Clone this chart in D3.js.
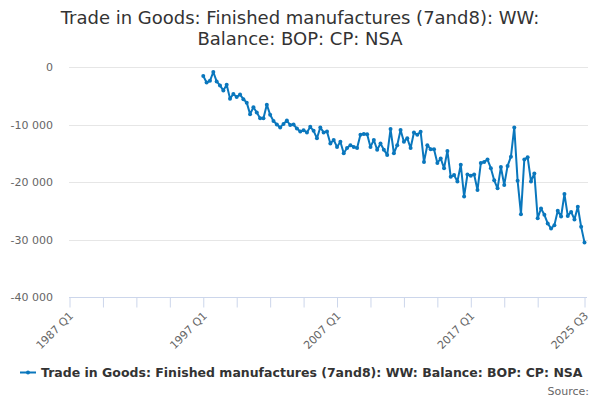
<!DOCTYPE html>
<html>
<head>
<meta charset="utf-8">
<script src="https://cdn.jsdelivr.net/npm/d3@7"></script>
<style>
  body { margin: 0; background: #fff; }
  svg { font-family: "DejaVu Sans", sans-serif; }
</style>
</head>
<body>
<script>
// quarterly values, 1997 Q1 .. 2025 Q3 (GBP million)
let firstYear = 1997;
let axisStart = 1987; // x axis starts at 1987 Q1
let valores = [
  -1570, -2700, -2400, -870,
  -2500, -3200, -4100, -3100,
  -5500, -4700, -5200, -4800,
  -5600, -6200, -8200, -7000,
  -7900, -8900, -8900, -6550,
  -8300, -9400, -10000, -10500,
  -9900, -9300, -10100, -10000,
  -10700, -11200, -11000, -11400,
  -10400, -11100, -12400, -10500,
  -11400, -11200, -13300, -12700,
  -13900, -13000, -15000, -14100,
  -13600, -13900, -14100, -11800,
  -11650, -11700, -13900, -12700,
  -14400, -13300, -14400, -15300,
  -10800, -15000, -13600, -10950,
  -13000, -12400, -14100, -11400,
  -11800, -11250, -16500, -13600,
  -14300, -14300, -16700, -15900,
  -17600, -14600, -19100, -18800,
  -19900, -17000, -22500, -18700,
  -18900, -18700, -21400, -16700,
  -16500, -16100, -17600, -19700,
  -21100, -17400, -20500, -17200,
  -15600, -10500, -19800, -25600,
  -16100, -15700, -19900, -18500,
  -26300, -24600, -25700, -27200,
  -28100, -27500, -25000, -26000,
  -22100, -25900, -25200, -26500,
  -24300, -27800, -30500
];
let yTicks = [0, -10000, -20000, -30000, -40000];
let xTickLabels = ["1987 Q1", "1997 Q1", "2007 Q1", "2017 Q1", "2025 Q3"];
let titulo = ["Trade in Goods: Finished manufactures (7and8): WW:", "Balance: BOP: CP: NSA"];
let serie = "Trade in Goods: Finished manufactures (7and8): WW: Balance: BOP: CP: NSA";

function graficar() {
  let w = 600;
  let h = 400;
  let svg = d3.select("body").append("svg").attr("width", w).attr("height", h);

  // quarter index counted from 1987 Q1
  let inicio = (firstYear - axisStart) * 4;
  let total = inicio + valores.length - 1;
  let etiqueta = function (q) {
    return (axisStart + Math.floor(q / 4)) + " Q" + ((q % 4) + 1);
  };

  let x = d3.scaleLinear().domain([0, total]).range([69.5, 584.5]);
  let y = d3.scaleLinear().domain([-40000, 0]).range([297, 67]);

  // titulo
  svg.selectAll(".titulo")
    .data(titulo)
    .enter()
    .append("text")
    .attr("x", w / 2)
    .attr("y", function (d, i) { return 24 + i * 21; })
    .attr("text-anchor", "middle")
    .style("font-size", "18px")
    .style("fill", "#333")
    .text(function (d) { return d; });

  // lineas de fondo
  svg.append("g")
    .selectAll("line")
    .data(yTicks.slice(0, -1))
    .enter()
    .append("line")
    .attr("x1", 69)
    .attr("x2", 588)
    .attr("y1", function (d) { return Math.round(y(d)) + 0.5; })
    .attr("y2", function (d) { return Math.round(y(d)) + 0.5; })
    .attr("stroke", "#e6e6e6");

  svg.append("g")
    .selectAll("text")
    .data(yTicks)
    .enter()
    .append("text")
    .attr("x", 53)
    .attr("y", function (d) { return y(d) + 4; })
    .attr("text-anchor", "end")
    .style("font-size", "11px")
    .style("fill", "#666")
    .text(function (d) { return d3.format(",")(d).replace(/,/g, " ").replace("−", "-"); });

  // eje x
  let ticks = d3.range(0, total - 10, 10).concat([total]);
  let ejeX = d3.axisBottom(x)
    .tickValues(ticks)
    .tickSize(10)
    .tickFormat(function (d) {
      let t = etiqueta(d);
      return xTickLabels.indexOf(t) >= 0 ? t : "";
    });
  let gx = svg.append("g").attr("transform", "translate(0,297.5)").call(ejeX);
  gx.select(".domain").attr("stroke", "#ccd6eb").attr("d", "M69,0H587");
  gx.selectAll(".tick line").attr("stroke", "#ccd6eb");
  gx.selectAll(".tick text")
    .style("font-size", "11px")
    .style("font-family", "DejaVu Sans, sans-serif")
    .style("fill", "#666")
    .attr("text-anchor", "end")
    .attr("dy", null)
    .attr("y", 0)
    .attr("transform", "translate(4,19) rotate(-45)");

  // linea de datos
  let puntos = valores.map(function (v, i) { return [inicio + i, v]; });
  let linea = d3.line()
    .x(function (d) { return x(d[0]); })
    .y(function (d) { return y(d[1]); });

  svg.append("path")
    .datum(puntos)
    .attr("d", linea)
    .attr("fill", "none")
    .attr("stroke", "#0a77bd")
    .attr("stroke-width", 2)
    .attr("stroke-linejoin", "round");

  svg.append("g")
    .selectAll("circle")
    .data(puntos)
    .enter()
    .append("circle")
    .attr("cx", function (d) { return x(d[0]); })
    .attr("cy", function (d) { return y(d[1]); })
    .attr("r", 2)
    .attr("fill", "#0a77bd");

  // leyenda
  svg.append("line")
    .attr("x1", 20).attr("x2", 36)
    .attr("y1", 372.5).attr("y2", 372.5)
    .attr("stroke", "#0a77bd").attr("stroke-width", 2);
  svg.append("circle").attr("cx", 28).attr("cy", 372.5).attr("r", 2).attr("fill", "#0a77bd");
  svg.append("text")
    .attr("x", 41)
    .attr("y", 377)
    .style("font-size", "12.5px")
    .style("font-weight", "bold")
    .style("fill", "#333")
    .text(serie);

  svg.append("text")
    .attr("x", 589)
    .attr("y", 395)
    .attr("text-anchor", "end")
    .style("font-size", "11px")
    .style("fill", "#666")
    .text("Source:");
}

graficar();
</script>
</body>
</html>
